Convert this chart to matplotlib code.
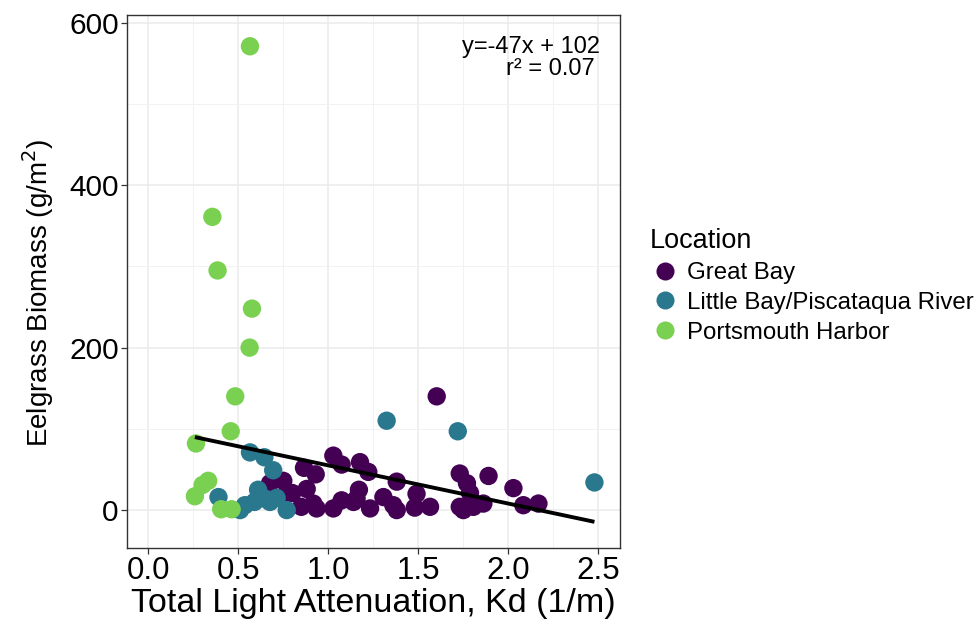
import matplotlib
matplotlib.use("Agg")
import matplotlib.pyplot as plt
from matplotlib.lines import Line2D
import numpy as np

plt.rcParams['font.family'] = ['Liberation Sans', 'DejaVu Sans']

# ---- data ----
great_bay_kd = [1.602, 1.028, 1.074, 1.176, 1.222, 0.930, 0.865, 0.750, 0.676, 0.880,
                0.800, 0.917, 0.935, 0.850, 1.028, 1.074, 1.140, 1.170, 1.157, 1.232,
                1.306, 1.361, 1.380, 1.380, 1.490, 1.480, 1.565, 1.730, 1.770, 1.787,
                1.730, 1.750, 1.806, 1.861, 1.890, 2.028, 2.083, 2.167, 0.740]
great_bay_bio = [140, 67, 56, 59, 47, 44, 52, 36, 33, 26,
                 21, 8, 2, 4, 2, 12, 10, 25, 14, 2,
                 16, 6, 0, 35, 20, 3, 4, 45, 33, 21,
                 4, 0, 4, 8, 42, 27, 6, 8, 15]

little_bay_kd = [1.324, 1.719, 2.478, 0.565, 0.645, 0.694, 0.610, 0.676, 0.713,
                 0.537, 0.510, 0.769, 0.390, 0.590, 0.650]
little_bay_bio = [110, 97, 34, 71, 65, 49, 25, 10, 15,
                  6, 0, 0, 16, 10, 14]

portsmouth_kd = [0.565, 0.356, 0.385, 0.576, 0.563, 0.483, 0.265, 0.458, 0.333,
                 0.302, 0.259, 0.405, 0.463]
portsmouth_bio = [571, 361, 295, 248, 200, 140, 82, 97, 36,
                  31, 17, 1, 1]

locations = ["Great Bay", "Little Bay/Piscataqua River", "Portsmouth Harbor"]
colors = ["#440154", "#2A788E", "#7AD151"]

fit_slope = -47
fit_intercept = 102
fit_r2 = 0.07

x_ticks = [0.0, 0.5, 1.0, 1.5, 2.0, 2.5]
y_ticks = [0, 200, 400, 600]

# ---- figure ----
fig = plt.figure(figsize=(9.79, 6.2), dpi=100)
ax = fig.add_axes([127/979, 1 - 548/620, (620-127)/979, (548-15)/620])

series = [(great_bay_kd, great_bay_bio), (little_bay_kd, little_bay_bio),
          (portsmouth_kd, portsmouth_bio)]
for (xs, ys), c in zip(series, colors):
    ax.scatter(xs, ys, s=175, color=c, edgecolors='none', zorder=3)

all_x = np.concatenate([np.array(s[0]) for s in series])
xl = np.array([all_x.min(), all_x.max()])
ax.plot(xl, fit_slope * xl + fit_intercept, color='black', lw=2.8, zorder=4,
        solid_capstyle='butt')

ax.set_xlim(-0.118, 2.62)
ax.set_ylim(-46.7, 609.5)
ax.set_xticks(x_ticks)
ax.set_xticklabels([f"{v:.1f}" for v in x_ticks])
ax.set_yticks(y_ticks)
ax.set_yticklabels([str(v) for v in y_ticks])
ax.set_xticks(np.arange(0.25, 2.6, 0.5), minor=True)
ax.set_yticks([100, 300, 500], minor=True)

ax.grid(True, which='major', color='#EBEBEB', lw=1.1, zorder=0)
ax.grid(True, which='minor', color='#F2F2F2', lw=0.7, zorder=0)
ax.set_axisbelow(True)
for sp in ax.spines.values():
    sp.set_color('#333333')
    sp.set_linewidth(1.0)

ax.tick_params(axis='x', which='major', labelsize=22.5, length=4, width=0.9,
               color='#333333', labelcolor='black', pad=2)
ax.tick_params(axis='y', which='major', labelsize=21.5, length=4, width=0.9,
               color='#333333', labelcolor='black', pad=2)
ax.tick_params(axis='both', which='minor', length=0)

ax.set_xlabel("Total Light Attenuation, Kd (1/m)", fontsize=24.5, labelpad=1)
ax.set_ylabel("Eelgrass Biomass (g/m$^{2}$)", fontsize=20)
ax.yaxis.set_label_coords((56 - 127) / 493, (548 - 293) / 533)

ax.text(0.96, 0.96, f"y={fit_slope}x + {fit_intercept}", transform=ax.transAxes,
        ha='right', va='top', fontsize=17)
ax.text(0.948, 0.92, f"r² = {fit_r2:.2f}", transform=ax.transAxes,
        ha='right', va='top', fontsize=17)

handles = [Line2D([0], [0], marker='o', linestyle='none', markersize=13,
                  markerfacecolor=c, markeredgecolor='none') for c in colors]
leg = fig.legend(handles, locations, title="Location", loc='center left',
                 bbox_to_anchor=(640/979, 1 - 286/620), frameon=False,
                 fontsize=17.3, title_fontsize=19.5, handletextpad=0.25,
                 labelspacing=0.32, borderaxespad=0, handlelength=1.3)
leg._legend_box.align = "left"

fig.savefig("out.png", dpi=100)
